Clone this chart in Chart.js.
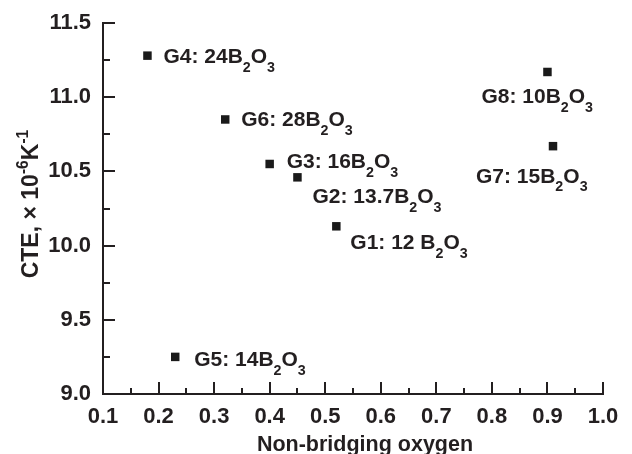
<!DOCTYPE html>
<html>
<head>
<meta charset="utf-8">
<script src="https://cdn.jsdelivr.net/npm/chart.js@4/dist/chart.umd.min.js"></script>
<style>
  html, body { margin: 0; padding: 0; background: #fff; }
  #wrap { width: 632px; height: 454px; }
</style>
</head>
<body>
<div id="wrap"><canvas id="c" width="632" height="454"></canvas></div>
<script>
// ---- data ----
const sampleNames = ["G1", "G2", "G3", "G4", "G5", "G6", "G7", "G8"];
const nonBridgingOxygen = [0.52, 0.45, 0.40, 0.18, 0.23, 0.32, 0.91, 0.90];
const cteValues = [10.13, 10.46, 10.55, 11.28, 9.25, 10.85, 10.67, 11.17];
const sampleLabels = ["G1: 12 B_2O_3", "G2: 13.7B_2O_3", "G3: 16B_2O_3", "G4: 24B_2O_3",
                      "G5: 14B_2O_3", "G6: 28B_2O_3", "G7: 15B_2O_3", "G8: 10B_2O_3"];
const xTicks = [0.1, 0.2, 0.3, 0.4, 0.5, 0.6, 0.7, 0.8, 0.9, 1.0];
const yTicks = [9.0, 9.5, 10.0, 10.5, 11.0, 11.5];
const xTitle = "Non-bridging oxygen";
const yTitle = "CTE, × 10^{-6}K^{-1}";

// ---- layout / style ----
const labelOffsets = [[14, 23], [15, 25.5], [17, 4.5], [16, 7.5], [19, 9.5], [16, 6.5], [-77, 36.5], [-66, 31.5]];
const INK = '#231f20';
const FONT = '"Liberation Sans", Arial, sans-serif';

function parseRich(text) {
  const segs = [];
  let i = 0, buf = '';
  while (i < text.length) {
    const ch = text[i];
    if (ch === '_' || ch === '^') {
      if (buf) { segs.push({ t: buf, mode: 0 }); buf = ''; }
      const mode = ch === '_' ? 1 : 2;
      i++;
      let s = '';
      if (text[i] === '{') {
        i++;
        while (i < text.length && text[i] !== '}') { s += text[i]; i++; }
        i++;
      } else { s = text[i]; i++; }
      segs.push({ t: s, mode });
    } else { buf += ch; i++; }
  }
  if (buf) segs.push({ t: buf, mode: 0 });
  return segs;
}

function richWidth(ctx, segs, size) {
  let w = 0;
  for (const s of segs) {
    ctx.font = 'bold ' + (s.mode ? size * 0.68 : size) + 'px ' + FONT;
    w += ctx.measureText(s.t).width;
  }
  return w;
}

function drawRich(ctx, text, x, y, size) {
  const segs = parseRich(text);
  ctx.textBaseline = 'alphabetic';
  ctx.textAlign = 'left';
  let cx = x;
  for (const s of segs) {
    const fs = s.mode ? size * 0.68 : size;
    ctx.font = 'bold ' + fs + 'px ' + FONT;
    let dy = 0;
    if (s.mode === 1) dy = size * 0.42;
    if (s.mode === 2) dy = -size * 0.42;
    ctx.fillText(s.t, cx, y + dy);
    cx += ctx.measureText(s.t).width;
  }
  return segs;
}

const decorPlugin = {
  id: 'decor',
  afterDraw(chart) {
    const ctx = chart.ctx;
    const xs = chart.scales.x, ys = chart.scales.y;
    const area = chart.chartArea;
    ctx.save();
    ctx.strokeStyle = INK;
    ctx.lineWidth = 2;
    ctx.lineCap = 'butt';
    for (let v = 0.1; v <= 1.0001; v += 0.05) {
      const major = Math.abs(Math.round(v * 10) - v * 10) < 1e-6;
      const px = Math.round(xs.getPixelForValue(v));
      ctx.beginPath();
      ctx.moveTo(px, area.bottom);
      ctx.lineTo(px, area.bottom - (major ? 12 : 6));
      ctx.stroke();
    }
    for (let v = 9.0; v <= 11.5001; v += 0.25) {
      const major = Math.abs(Math.round(v * 2) - v * 2) < 1e-6;
      const py = Math.round(ys.getPixelForValue(v));
      ctx.beginPath();
      ctx.moveTo(area.left, py);
      ctx.lineTo(area.left + (major ? 12 : 7), py);
      ctx.stroke();
    }
    ctx.fillStyle = INK;
    for (let i = 0; i < sampleLabels.length; i++) {
      const px = xs.getPixelForValue(nonBridgingOxygen[i]);
      const py = ys.getPixelForValue(cteValues[i]);
      drawRich(ctx, sampleLabels[i], px + labelOffsets[i][0], py + labelOffsets[i][1], 21);
    }
    {
      const segs = parseRich(xTitle);
      const w = richWidth(ctx, segs, 21.5);
      drawRich(ctx, xTitle, 365 - w / 2, 451, 21.5);
    }
    {
      const segs = parseRich(yTitle);
      const w = richWidth(ctx, segs, 23);
      ctx.translate(38, 204);
      ctx.rotate(-Math.PI / 2);
      drawRich(ctx, yTitle, -w / 2, 0, 23);
    }
    ctx.restore();
  }
};

new Chart(document.getElementById('c'), {
  type: 'scatter',
  data: {
    datasets: [{
      label: 'CTE',
      data: nonBridgingOxygen.map((x, i) => ({ x, y: cteValues[i] })),
      pointStyle: 'rect',
      radius: 6,
      backgroundColor: '#1a1a1a',
      borderWidth: 0
    }]
  },
  options: {
    responsive: false,
    animation: false,
    devicePixelRatio: 1,
    layout: { padding: { top: 23, right: 29, left: 0, bottom: 0 } },
    plugins: { legend: { display: false }, tooltip: { enabled: false } },
    scales: {
      x: {
        type: 'linear',
        min: 0.1, max: 1.0,
        afterFit: s => { s.height = 60; },
        afterBuildTicks: s => { s.ticks = xTicks.map(v => ({ value: v })); },
        grid: { display: false },
        border: { display: true, color: INK, width: 2 },
        ticks: {
          color: INK, padding: 2,
          font: { family: FONT, size: 22, weight: 'bold' },
          callback: v => v.toFixed(1)
        }
      },
      y: {
        type: 'linear',
        min: 9.0, max: 11.5,
        afterFit: s => { s.width = 103; },
        afterBuildTicks: s => { s.ticks = yTicks.map(v => ({ value: v })); },
        grid: { display: false },
        border: { display: true, color: INK, width: 2 },
        ticks: {
          color: INK, padding: 4,
          font: { family: FONT, size: 22, weight: 'bold' },
          callback: v => v.toFixed(1)
        }
      }
    }
  },
  plugins: [decorPlugin]
});
</script>
</body>
</html>
